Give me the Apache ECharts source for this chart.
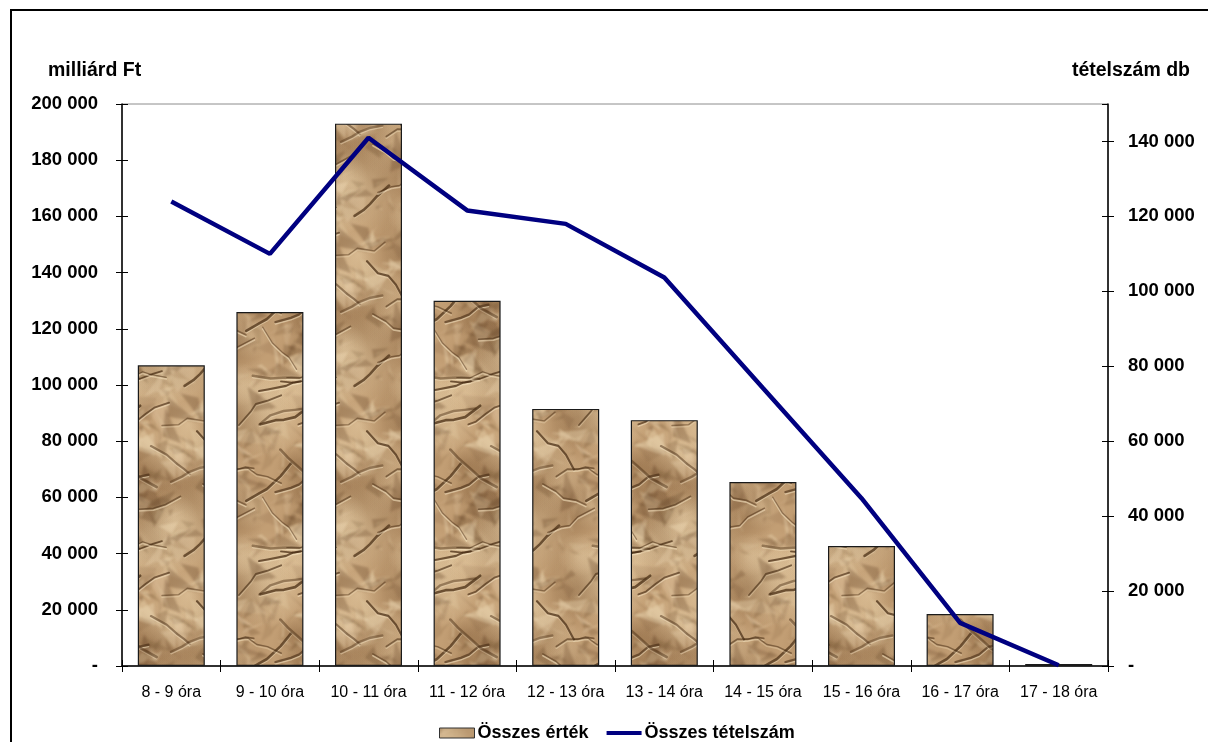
<!DOCTYPE html>
<html><head><meta charset="utf-8">
<script src="https://cdn.jsdelivr.net/npm/echarts@6/dist/echarts.min.js"></script>
<style>
html,body{margin:0;padding:0;background:#fff;}
#frame{position:absolute;left:10px;top:9px;width:1300px;height:800px;border:2px solid #000;box-sizing:border-box;}
#c{position:absolute;left:0;top:0;width:1208px;height:742px;}
</style></head>
<body>
<div id="frame"></div>
<div id="c"></div>
<script>
const categories = ['8 - 9 óra','9 - 10 óra','10 - 11 óra','11 - 12 óra','12 - 13 óra','13 - 14 óra','14 - 15 óra','15 - 16 óra','16 - 17 óra','17 - 18 óra'];
const osszesErtek = [107000,126000,193000,130000,91500,87500,65500,42700,18500,700];
const osszesTetelszam = [124000,110000,141000,121600,118000,103700,74200,44800,11500,200];
const leftTicks = {min:0,max:200000,interval:20000};
const rightTicks = {min:0,max:150000,interval:20000};

// crumpled paper texture (style only), drawn seamlessly on a 3x3 canvas then cropped
function makeTexture(){
  const s=170, big=document.createElement('canvas'); big.width=3*s; big.height=3*s;
  const g=big.getContext('2d');
  let seed=424242; const rnd=()=>{seed=(seed*16807)%2147483647;return (seed-1)/2147483646;};
  g.fillStyle='#c29e74'; g.fillRect(0,0,3*s,3*s);
  const tiled = fn => { for(let ox=0;ox<3;ox++) for(let oy=0;oy<3;oy++){ g.save(); g.translate(ox*s,oy*s); fn(); g.restore(); } };
  const blobs=[]; for(let i=0;i<30;i++) blobs.push([rnd()*s,rnd()*s,15+rnd()*35,rnd()>0.45]);
  tiled(()=>{ for(const [x,y,r,light] of blobs){
    const gr=g.createRadialGradient(x,y,0,x,y,r);
    gr.addColorStop(0, light?'rgba(236,212,172,0.45)':'rgba(125,88,52,0.35)');
    gr.addColorStop(1, light?'rgba(236,212,172,0)':'rgba(125,88,52,0)');
    g.fillStyle=gr; g.fillRect(x-r,y-r,2*r,2*r);
  }});
  const facets=[]; for(let i=0;i<180;i++){
    const x=rnd()*s,y=rnd()*s,r=12+rnd()*26;
    facets.push([x,y,x+(rnd()-0.5)*r*2,y+(rnd()-0.5)*r,x+(rnd()-0.5)*r,y+(rnd()-0.5)*r*2,rnd()>0.5,rnd()]);
  }
  g.filter='blur(1px)';
  tiled(()=>{ for(const f of facets){
    g.beginPath(); g.moveTo(f[0],f[1]); g.lineTo(f[2],f[3]); g.lineTo(f[4],f[5]); g.closePath();
    g.fillStyle=f[6]?`rgba(244,224,188,${0.14+f[7]*0.26})`:`rgba(100,68,38,${0.1+f[7]*0.22})`;
    g.fill();
  }});
  const creases=[]; for(let i=0;i<22;i++){
    let x=rnd()*s,y=rnd()*s; const pts=[[x,y]];
    const ang=(rnd()-0.5)*1.6 + (rnd()>0.5?0:Math.PI);
    for(let k=0;k<4;k++){const a=ang+(rnd()-0.5)*0.9, l=7+rnd()*12; x+=Math.cos(a)*l; y+=Math.sin(a)*l; pts.push([x,y]);}
    creases.push([pts,0.4+rnd()*0.35,1.2+rnd()*1.6,0.3+rnd()*0.3]);
  }
  g.filter='blur(0.5px)';
  g.lineCap='round'; g.lineJoin='round';
  tiled(()=>{ for(const [pts,a,w,la] of creases){
    for(const [dy,col,lw] of [[1.8,`rgba(245,226,192,${la})`,1.6],[0,`rgba(72,45,20,${a})`,w]]){
      g.beginPath();
      pts.forEach((p,j)=>{ if(j===0) g.moveTo(p[0],p[1]+dy); else g.lineTo(p[0],p[1]+dy); });
      g.strokeStyle=col; g.lineWidth=lw; g.stroke();
    }
  }});
  g.filter='none';
  const cv=document.createElement('canvas'); cv.width=s; cv.height=s;
  cv.getContext('2d').drawImage(big,s,s,s,s,0,0,s,s);
  return cv;
}
const tex = makeTexture();

const chart = echarts.init(document.getElementById('c'));
const font = 'Arial, "Liberation Sans", sans-serif';
const fmt = v => v===0 ? '-' : String(v).replace(/\B(?=(\d{3})+(?!\d))/g,' ');
chart.setOption({
  animation:false,
  textStyle:{fontFamily:font},
  grid:{left:122,right:100,top:104,bottom:76,show:true,borderColor:'#8c8c8c',borderWidth:1,backgroundColor:'transparent'},
  legend:{top:719,left:434,itemGap:18,itemWidth:35,itemHeight:10,
    textStyle:{fontFamily:font,fontWeight:'bold',fontSize:18,color:'#000',padding:[0,0,0,-2]},
    data:[{name:'Összes érték',icon:'rect',itemStyle:{color:{image:tex,repeat:'repeat'},borderColor:'#333',borderWidth:1}},
          {name:'Összes tételszám',icon:'path://M0,0H10V1.1H0Z',itemStyle:{color:'#000080'}}]},
  xAxis:[{type:'category',data:categories,boundaryGap:true,
    axisLine:{lineStyle:{color:'#000',width:1.5}},
    axisTick:{show:true,length:6,lineStyle:{color:'#000'}},
    axisLabel:{interval:0,fontSize:16,color:'#000',margin:19,fontFamily:font},
    splitLine:{show:false}},
    {type:'category',data:categories,position:'bottom',boundaryGap:true,
    axisLine:{show:false},axisTick:{show:true,inside:true,length:6,lineStyle:{color:'#000'}},axisLabel:{show:false}}],
  yAxis:[
    {type:'value',min:leftTicks.min,max:leftTicks.max,interval:leftTicks.interval,
     name:'milliárd Ft',nameLocation:'end',nameGap:23,
     nameTextStyle:{fontFamily:font,fontWeight:'bold',fontSize:19.5,color:'#000',align:'left',padding:[0,0,0,-74]},
     axisLine:{show:true,lineStyle:{color:'#000',width:1.5}},
     axisTick:{show:true,length:6,lineStyle:{color:'#000'}},
     axisLabel:{formatter:fmt,fontWeight:'bold',fontSize:18.5,color:'#000',margin:24,fontFamily:font},
     splitLine:{show:false}},
    {type:'value',min:rightTicks.min,max:rightTicks.max,interval:rightTicks.interval,position:'right',
     name:'tételszám db',nameLocation:'end',nameGap:23,
     nameTextStyle:{fontFamily:font,fontWeight:'bold',fontSize:19.5,color:'#000',align:'right',padding:[0,-82,0,0]},
     axisLine:{show:true,lineStyle:{color:'#000',width:1.5}},
     axisTick:{show:true,length:6,lineStyle:{color:'#000'}},
     axisLabel:{formatter:fmt,fontWeight:'bold',fontSize:18.5,color:'#000',margin:20,fontFamily:font,showMaxLabel:false},
     splitLine:{show:false}},
    {type:'value',min:leftTicks.min,max:leftTicks.max,interval:leftTicks.interval,position:'left',
     axisLine:{show:false},axisTick:{show:true,inside:true,length:6,lineStyle:{color:'#000'}},axisLabel:{show:false},splitLine:{show:false}},
    {type:'value',min:rightTicks.min,max:rightTicks.max,interval:rightTicks.interval,position:'right',
     axisLine:{show:false},axisTick:{show:true,inside:true,length:6,lineStyle:{color:'#000'}},axisLabel:{show:false},splitLine:{show:false}}
  ],
  series:[
    {name:'Összes érték',type:'bar',yAxisIndex:0,data:osszesErtek,barWidth:67,
     itemStyle:{color:{image:tex,repeat:'repeat'},borderColor:'#1a1a1a',borderWidth:1.2}},
    {name:'Összes tételszám',type:'line',yAxisIndex:1,data:osszesTetelszam,showSymbol:false,symbol:'none',
     lineStyle:{color:'#000080',width:4.5},itemStyle:{color:'#000080'}}
  ]
});
</script>
</body></html>
